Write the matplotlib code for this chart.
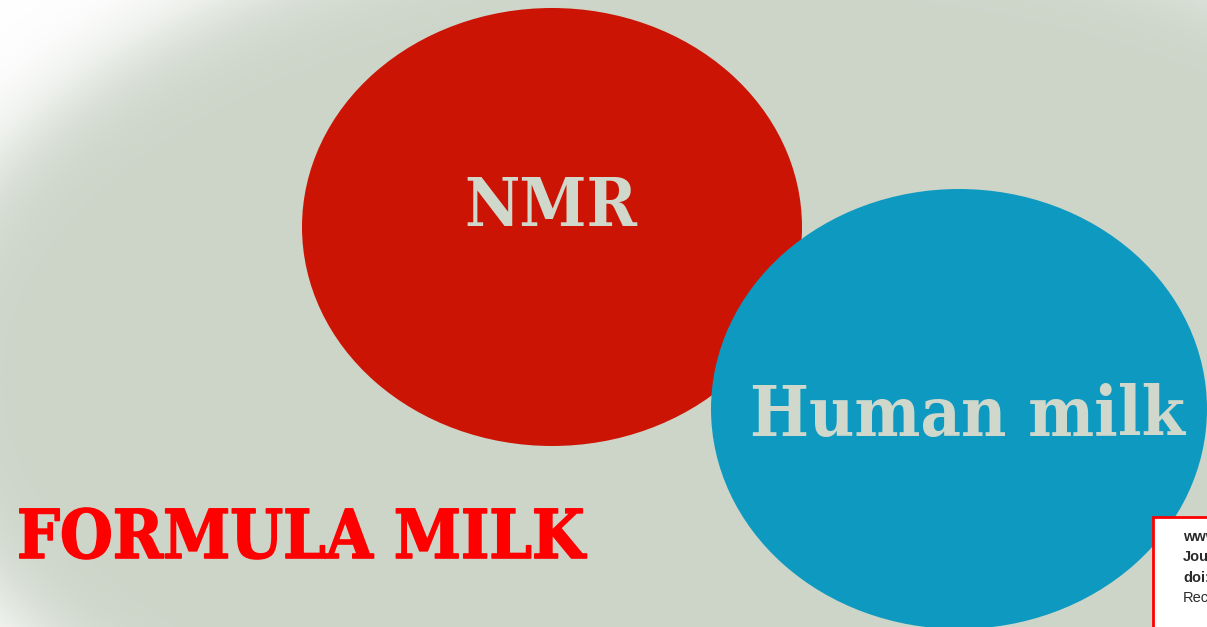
import numpy as np
import matplotlib
matplotlib.use("Agg")
import matplotlib.pyplot as plt
from matplotlib.patches import Ellipse, Rectangle
import matplotlib.patheffects as pe
from matplotlib import font_manager as fm

W, H = 1207, 627

# content
circle_labels = ["NMR", "Human milk"]
circle_colors = ["#CC1405", "#0E9AC0"]
circle_centers = [(552, 227), (959, 409)]
circle_sizes = [(500, 438), (496, 440)]
side_label = "FORMULA MILK"
note_lines = ["www.mdpi.com/journal/nutrients", "Journal", "doi:", "Received"]
note_bold = [True, True, True, False]

bg_gray = np.array([0xCD, 0xD5, 0xC9]) / 255.0
text_gray = "#D0D8CC"

fig = plt.figure(figsize=(W / 100, H / 100), dpi=100)
ax = fig.add_axes([0, 0, 1, 1])
ax.set_xlim(0, W)
ax.set_ylim(H, 0)
ax.axis("off")

# blurred elliptical background
yy, xx = np.mgrid[0:H, 0:W] + 0.5
cx, cy, a, b = 750, 380, 842, 483
r = np.sqrt(((xx - cx) / a) ** 2 + ((yy - cy) / b) ** 2)
gx = (xx - cx) / a ** 2 / r
gy = (yy - cy) / b ** 2 / r
d = (r - 1.0) / np.sqrt(gx ** 2 + gy ** 2)
t = 1 / (1 + np.exp(-d / 24))  # 0 inside -> 1 outside
img = bg_gray[None, None, :] * (1 - t[..., None]) + 1.0 * t[..., None]
ax.imshow(img, extent=(0, W, H, 0), zorder=0, interpolation="bilinear")

for (c, s, col) in zip(circle_centers, circle_sizes, circle_colors):
    ax.add_patch(Ellipse(c, s[0], s[1], facecolor=col, edgecolor="none", zorder=2))

cond_path = None
for f in fm.findSystemFonts():
    if f.endswith("DejaVuSerifCondensed-Bold.ttf"):
        cond_path = f
        break


def cfont(size):
    if cond_path:
        return fm.FontProperties(fname=cond_path, size=size)
    return fm.FontProperties(family="DejaVu Serif", weight="bold", size=size * 0.9)


ax.text(551, 226, circle_labels[0], fontproperties=cfont(48.5),
        color=text_gray, ha="center", va="baseline", zorder=3)
ax.text(967, 436, circle_labels[1], fontproperties=cfont(50),
        color=text_gray, ha="center", va="baseline", zorder=3)

ax.text(17, 558, side_label, fontproperties=cfont(48.5), color="#FF0000",
        ha="left", va="baseline", zorder=3,
        path_effects=[pe.withStroke(linewidth=1.2, foreground="#FF0000")])

# note box
ax.add_patch(Rectangle((1153, 517), 200, 200, facecolor="white",
                       edgecolor="#FF0000", linewidth=2, zorder=4))
for i, (ln, bd) in enumerate(zip(note_lines, note_bold)):
    ax.text(1183, 541 + i * 20.3, ln, fontsize=10.5, family="Liberation Sans",
            fontweight="bold" if bd else "normal", color="#2A2A2A",
            ha="left", va="baseline", zorder=5)

fig.savefig("out.png", dpi=100)
